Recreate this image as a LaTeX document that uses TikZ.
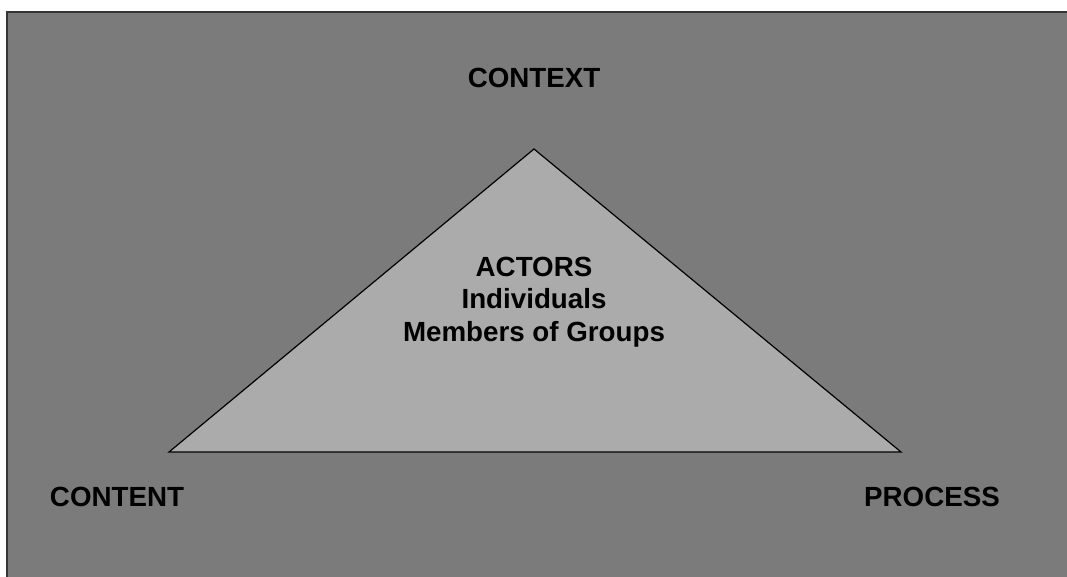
\documentclass[tikz,border=0pt]{standalone}
\usepackage{fontspec}
\setmainfont{Liberation Sans}
\definecolor{bggray}{HTML}{7B7B7B}
\definecolor{trigray}{HTML}{ABABAB}
\definecolor{framegray}{HTML}{353535}
\tikzset{
  lbl/.style={font=\fontsize{20.8}{24.5}\selectfont\bfseries, text=black, align=center, inner sep=0pt},
  tri/.style={draw=black, line width=0.9pt, fill=trigray, line join=miter}
}
\begin{document}
\begin{tikzpicture}[x=0.75pt, y=-0.75pt]
        \useasboundingbox (0,0) rectangle (1067,577);
        \fill[white] (0,0) rectangle (1067,577);
        \draw[fill=bggray, draw=framegray, line width=1.6pt] (7,12) rectangle (1080,590);
        \coordinate (t0) at (534,149);
        \coordinate (t1) at (169,452);
        \coordinate (t2) at (901,452);
        \draw[tri] (t0) -- (t1) -- (t2) -- cycle;
        \node (ctx) [lbl] at (534,78) {CONTEXT};
        \node (act) [lbl] at (534,302) {ACTORS\\Individuals\\Members of Groups};
        \node (cnt) [lbl] at (117,497) {CONTENT};
        \node (prc) [lbl] at (932,497) {PROCESS};
\end{tikzpicture}
\end{document}
